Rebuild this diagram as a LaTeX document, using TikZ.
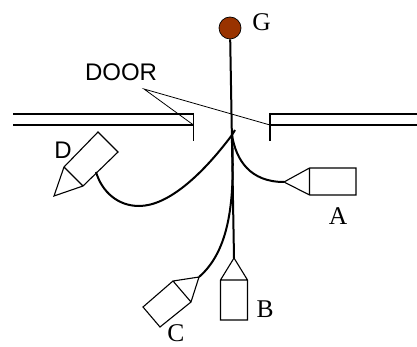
\documentclass[tikz,border=0pt]{standalone}
\usepackage{fontspec}
\setmainfont{Liberation Serif}
\newfontfamily\arialfont{Liberation Sans}
\definecolor{gball}{RGB}{153,51,0}
\tikzset{
  wall/.style={line width=2pt},
  stub/.style={line width=1.8pt},
  thin line/.style={line width=0.8pt},
  body/.style={line width=1.1pt},
  track/.style={line width=2pt},
  lab/.style={inner sep=0pt,font=\fontsize{25.5}{25.5}\selectfont},
  sanslab/.style={inner sep=0pt,font=\arialfont\fontsize{24}{24}\selectfont},
}
\begin{document}
\begin{tikzpicture}[x=1pt,y=-1pt]
\useasboundingbox (0,0) rectangle (417,347);
% named points
\coordinate (wl1) at (13,114); \coordinate (wl1e) at (193.5,114);
\coordinate (wl2) at (13,125); \coordinate (wl2e) at (193.5,125);
\coordinate (wr1) at (417,114); \coordinate (wr1e) at (270,114);
\coordinate (wr2) at (417,125); \coordinate (wr2e) at (270,125);
\coordinate (sl1) at (193.5,113); \coordinate (sl2) at (193.5,141);
\coordinate (sr1) at (270,113); \coordinate (sr2) at (270,141);
\coordinate (ptr) at (144,89);
\coordinate (hub) at (232,135);
\coordinate (hubt) at (235,130);
% walls
\draw[wall] (wl1) -- (wl1e) (wl2) -- (wl2e) (wr1) -- (wr1e) (wr2) -- (wr2e);
\draw[stub] (sl1) -- (sl2) (sr1) -- (sr2);
\draw[thin line] (wl2e) -- (ptr) -- (wr2e);
% A
\coordinate (Atip) at (284,182);
\coordinate (A1) at (309.5,168); \coordinate (A2) at (356,168);
\coordinate (A3) at (356,195); \coordinate (A4) at (309.5,195);
\draw[body] (Atip) -- (A1) -- (A2) -- (A3) -- (A4) -- cycle (A1) -- (A4);
% B
\coordinate (Btip) at (234,258);
\coordinate (B1) at (220.5,280); \coordinate (B2) at (247.5,280);
\coordinate (B3) at (247.5,320); \coordinate (B4) at (220.5,320);
\draw[body] (Btip) -- (B2) -- (B3) -- (B4) -- (B1) -- cycle (B1) -- (B2);
% C
\coordinate (Ctip) at (199,277);
\coordinate (C1) at (173,281); \coordinate (C2) at (191,302);
\coordinate (C3) at (160,327); \coordinate (C4) at (143,307);
\draw[body] (Ctip) -- (C1) -- (C4) -- (C3) -- (C2) -- cycle (C1) -- (C2);
% D
\coordinate (Dtip) at (54,196);
\coordinate (D1) at (64,167); \coordinate (D2) at (98,132);
\coordinate (D3) at (118,152); \coordinate (D4) at (83,186);
\coordinate (Dtail) at (96,172);
\draw[body] (Dtip) -- (D1) -- (D2) -- (D3) -- (D4) -- cycle (D1) -- (D4);
% tracks
\node[circle,draw=black,line width=0.7pt,fill=gball,minimum size=22pt,inner sep=0pt] (G) at (230,28) {};
\draw[track] (G) -- (Btip);
\draw[track] (hubt) -- (hub);
\draw[track] (hub) .. controls (236,160) and (250,182) .. (Atip);
\draw[track] (hub) .. controls (235,200) and (230,250) .. (Ctip);
\draw[track] (hub) .. controls (202,175) and (168,206) .. (139,206) .. controls (118,206) and (102,192) .. (Dtail);
% labels
\node[lab] (lG) at (261.5,22) {G};
\node[lab] (lA) at (338,216) {A};
\node[lab] (lB) at (265,309) {B};
\node[lab] (lC) at (176,333) {C};
\node[sanslab] (lD) at (63,150) {D};
\node[sanslab] (lDoor) at (121,72) {DOOR};
\end{tikzpicture}
\end{document}
